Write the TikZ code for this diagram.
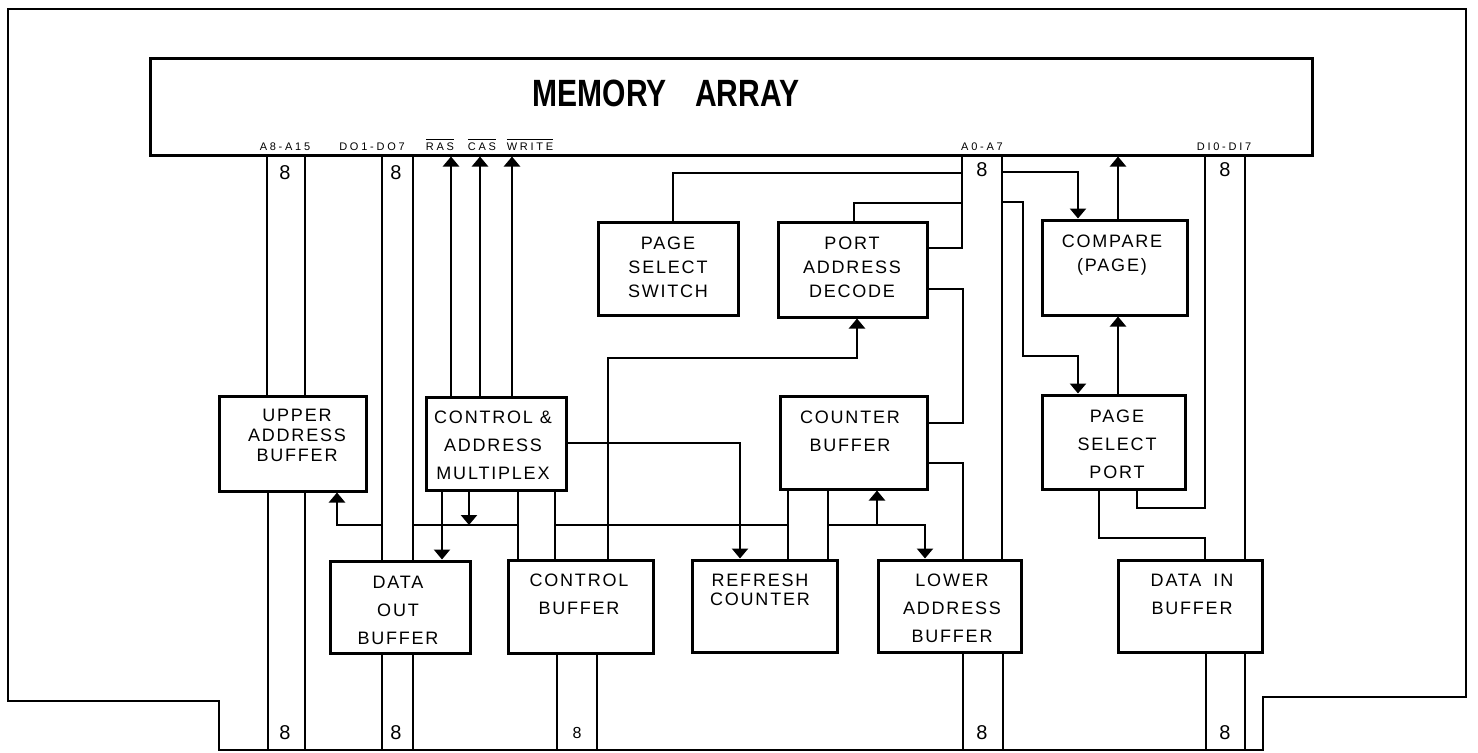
\documentclass[tikz,border=0pt]{standalone}
\usepackage{fontspec}
\usepackage{graphicx}
\setmainfont{Liberation Sans}
\newfontfamily\boxfam[LetterSpace=10]{Liberation Sans}
\newfontfamily\pinfam[LetterSpace=25]{Liberation Sans}
\usetikzlibrary{arrows.meta}
\tikzset{
  blk/.style={draw, line width=1.5pt, inner sep=0pt},
  lbl/.style={font=\boxfam\fontsize{9}{14}\selectfont, align=center, inner sep=0pt},
  wire/.style={line width=1.2pt},
  arr/.style={wire, -{Triangle[width=8pt,length=5pt]}},
  pinlbl/.style={font=\pinfam\fontsize{5.5}{6}\selectfont, anchor=base, inner sep=0pt},
  eight/.style={font=\fontsize{10}{12}\selectfont, inner sep=0pt},
  frame/.style={line width=1.1pt}
}
\begin{document}
\begin{tikzpicture}[x=0.5pt,y=-0.5pt]
\useasboundingbox (0,0) rectangle (1478,752);
\coordinate (bot) at (0,750);
% outer frame
\draw[frame] (8,9) -- (1466,9) -- (1466,697) -- (1263,697) -- (1263,750) -- (219,750) -- (219,701) -- (8,701) -- cycle;

% memory array
\node[blk, minimum width=581pt, minimum height=48.5pt] (mem) at (731,106.5) {};
\node[font=\bfseries\fontsize{19}{20}\selectfont, inner sep=0pt] (title) at (666,93.5) {\scalebox{0.79}[1]{MEMORY\hspace{18pt}ARRAY}};
\node[pinlbl] (pa8) at (285,150) {A8-A15};
\node[pinlbl] (pdo) at (372,150) {DO1-DO7};
\node[pinlbl] (pras) at (440,150) {$\overline{\hbox{RAS}}$};
\node[pinlbl] (pcas) at (482,150) {$\overline{\hbox{CAS}}$};
\node[pinlbl] (pwr) at (530,150) {$\overline{\hbox{WRITE}}$};
\node[pinlbl] (pa0) at (982,150) {A0-A7};
\node[pinlbl] (pdi) at (1224,150) {DI0-DI7};

% blocks
\node[blk, minimum width=70pt, minimum height=46.5pt] (pss) at (668,268.5) {};
\node[lbl, font=\boxfam\fontsize{9}{12}\selectfont] (tpss) at (668,267) {PAGE\\SELECT\\SWITCH};
\node[blk, minimum width=74.5pt, minimum height=47.5pt] (pad) at (852.5,269.5) {};
\node[lbl, font=\boxfam\fontsize{9}{12}\selectfont] (tpad) at (852,267) {PORT\\ADDRESS\\DECODE};
\node[blk, minimum width=72.5pt, minimum height=47.5pt] (cmp) at (1114.5,267.5) {};
\node[lbl, font=\boxfam\fontsize{9}{12}\selectfont] (tcmp) at (1112,255) {COMPARE\\(PAGE)};
\node[blk, minimum width=73.5pt, minimum height=47.5pt] (uab) at (292.5,443.5) {};
\node[lbl, font=\boxfam\fontsize{9}{10}\selectfont] (tuab) at (297,435) {UPPER\\ADDRESS\\BUFFER};
\node[blk, minimum width=70pt, minimum height=46.5pt] (cam) at (496,443.5) {};
\node[lbl] (tcam) at (493,445) {CONTROL \&\\ADDRESS\\MULTIPLEX};
\node[blk, minimum width=73.5pt, minimum height=46.5pt] (cb) at (853.5,442.5) {};
\node[lbl] (tcb) at (850,431) {COUNTER\\BUFFER};
\node[blk, minimum width=71.5pt, minimum height=47pt] (psp) at (1113.5,442) {};
\node[lbl] (tpsp) at (1117,444) {PAGE\\SELECT\\PORT};
\node[blk, minimum width=70pt, minimum height=46pt] (dob) at (400,607) {};
\node[lbl] (tdob) at (398,610) {DATA\\OUT\\BUFFER};
\node[blk, minimum width=72.5pt, minimum height=46.5pt] (ctb) at (580.5,606.5) {};
\node[lbl] (tctb) at (579,594.5) {CONTROL\\BUFFER};
\node[blk, minimum width=72.5pt, minimum height=46pt] (rc) at (764.5,606) {};
\node[lbl, font=\boxfam\fontsize{9}{9.5}\selectfont] (trc) at (760,589.5) {REFRESH\\COUNTER};
\node[blk, minimum width=71.5pt, minimum height=46pt] (lab) at (949.5,606) {};
\node[lbl] (tlab) at (952,608) {LOWER\\ADDRESS\\BUFFER};
\node[blk, minimum width=72pt, minimum height=46pt] (dib) at (1190,606) {};
\node[lbl] (tdib) at (1192,594) {DATA\hspace{6pt}IN\\BUFFER};

% A8-A15 bus
\draw[wire] (267,0 |- mem.south) -- (267,0 |- uab.north);
\draw[wire] (305,0 |- mem.south) -- (305,0 |- uab.north);
\draw[wire] (268,0 |- uab.south) -- (268,0 |- bot);
\draw[wire] (305,0 |- uab.south) -- (305,0 |- bot);
% DO bus
\draw[wire] (382,0 |- mem.south) -- (382,0 |- dob.north);
\draw[wire] (413,0 |- mem.south) -- (413,0 |- dob.north);
\draw[wire] (382,0 |- dob.south) -- (382,0 |- bot);
\draw[wire] (413,0 |- dob.south) -- (413,0 |- bot);
% control signals
\draw[arr] (451,0 |- cam.north) -- (451,0 |- mem.south);
\draw[arr] (480,0 |- cam.north) -- (480,0 |- mem.south);
\draw[arr] (512,0 |- cam.north) -- (512,0 |- mem.south);
% CAM outputs
\draw[arr] (442,0 |- cam.south) -- (442,0 |- dob.north);
\draw[arr] (469,0 |- cam.south) -- (469,525);
\draw[wire] (518,0 |- cam.south) -- (518,0 |- ctb.north);
\draw[wire] (555,0 |- cam.south) -- (555,0 |- ctb.north);
\draw[arr] (cam.east |- 0,443) -| (740,0 |- rc.north);
% horizontal control line
\draw[arr] (382,525) -| (337,0 |- uab.south);
\draw[wire] (413,525) -- (518,525);
\draw[wire] (555,525) -- (788,525);
% control buffer to port address decode
\draw[arr] (608,0 |- ctb.north) |- (857,358) -- (857,0 |- pad.south);
\draw[wire] (557,0 |- ctb.south) -- (557,0 |- bot);
\draw[wire] (597,0 |- ctb.south) -- (597,0 |- bot);
% counter buffer / refresh counter
\draw[wire] (788,0 |- cb.south) -- (788,0 |- rc.north);
\draw[wire] (828,0 |- cb.south) -- (828,0 |- rc.north);
\draw[arr] (828,525) -| (925,0 |- lab.north);
\draw[arr] (877,525) -- (877,0 |- cb.south);
% A0-A7 bus
\draw[wire] (673,0 |- pss.north) |- (962,173);
\draw[wire] (854,0 |- pad.north) |- (962,203);
\draw[wire] (962,0 |- mem.south) |- (pad.east |- 0,248);
\draw[wire] (pad.east |- 0,289) -| (963,423) -- (cb.east |- 0,423);
\draw[wire] (cb.east |- 0,463) -| (963,0 |- lab.north);
\draw[wire] (1002,0 |- mem.south) -- (1002,0 |- lab.north);
\draw[wire] (963,0 |- lab.south) -- (963,0 |- bot);
\draw[wire] (1003,0 |- lab.south) -- (1003,0 |- bot);
% compare / page select port
\draw[arr] (1002,172) -| (1078,0 |- cmp.north);
\draw[arr] (1002,202) -- (1023,202) |- (1078,356) -- (1078,0 |- psp.north);
\draw[arr] (1118,0 |- cmp.north) -- (1118,0 |- mem.south);
\draw[arr] (1118,0 |- psp.north) -- (1118,0 |- cmp.south);
% DI bus
\draw[wire] (1205,0 |- mem.south) |- (1137,508) -- (1137,0 |- psp.south);
\draw[wire] (1245,0 |- mem.south) -- (1245,0 |- dib.north);
\draw[wire] (1099,0 |- psp.south) |- (1205,538) -- (1205,0 |- dib.north);
\draw[wire] (1206,0 |- dib.south) -- (1206,0 |- bot);
\draw[wire] (1245,0 |- dib.south) -- (1245,0 |- bot);

% bus widths
\node[eight] (e1) at (285,173) {8};
\node[eight] (e2) at (396,173) {8};
\node[eight] (e3) at (982,170) {8};
\node[eight] (e4) at (1225,170) {8};
\node[eight] (e5) at (285,733) {8};
\node[eight] (e6) at (396,733) {8};
\node[eight, font=\fontsize{8}{10}\selectfont] (e7) at (577,733) {8};
\node[eight] (e8) at (982,733) {8};
\node[eight] (e9) at (1225,733) {8};
\end{tikzpicture}
\end{document}
